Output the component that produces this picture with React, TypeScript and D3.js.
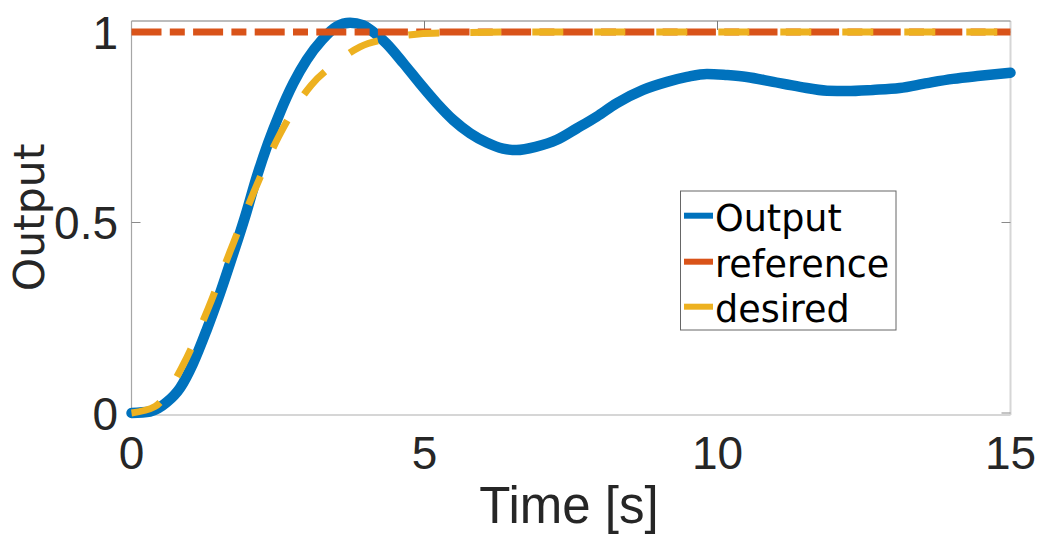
import React from "react";
import * as d3 from "d3";

// Measured step response (time in seconds, output value)
const outputTime = [0, 0.32, 0.6, 0.83, 1.05, 1.28, 1.51, 1.74, 1.94, 2.14, 2.33, 2.53, 2.76, 2.99, 3.25, 3.5, 3.73, 3.95, 4.1, 4.35, 4.64, 4.92, 5.21, 5.49, 5.78, 6.06, 6.34, 6.57, 6.91, 7.26, 7.6, 7.94, 8.28, 8.73, 9.14, 9.48, 9.82, 10.16, 10.5, 10.95, 11.41, 11.87, 12.21, 12.65, 13.11, 13.58, 14.02, 14.48, 15.0];
const outputValue = [0, 0.004, 0.028, 0.066, 0.13, 0.217, 0.314, 0.42, 0.516, 0.621, 0.708, 0.787, 0.865, 0.927, 0.979, 1.014, 1.024, 1.018, 1.003, 0.97, 0.918, 0.865, 0.813, 0.769, 0.734, 0.71, 0.694, 0.69, 0.699, 0.717, 0.747, 0.778, 0.813, 0.848, 0.869, 0.882, 0.89, 0.887, 0.882, 0.869, 0.856, 0.846, 0.845, 0.848, 0.853, 0.866, 0.877, 0.885, 0.893];

// Desired (model) response
const desiredTime = [0, 0.4, 0.88, 1.31, 1.68, 2.08, 2.51, 3.07, 3.5, 3.9, 4.4, 4.9, 5.5, 6.5, 8, 10, 15];
const desiredValue = [0, 0.017, 0.126, 0.275, 0.423, 0.577, 0.725, 0.861, 0.92, 0.961, 0.983, 0.995, 0.998, 1, 1, 1, 1];

// Step reference
const referenceTime = [0, 15];
const referenceValue = [1, 1];

const xTicks = [0, 5, 10, 15];
const yTicks = [0, 0.5, 1];
const yTickLabels = ["0", "0.5", "1"];

const legendItems = ["Output", "reference", "desired"];
const colors = ["#0072BD", "#D95319", "#EDB120"];

const W = 1040;
const H = 536;

export default function App() {
  const x = d3.scaleLinear().domain([0, 15]).range([131.5, 1010.5]);
  const y = d3.scaleLinear().domain([0, 1]).range([413, 32]);
  const top = y(1.0289);
  const bottom = 415;
  const left = x(0);
  const right = x(15);

  const smooth = d3
    .line<[number, number]>()
    .x((d) => x(d[0]))
    .y((d) => y(d[1]))
    .curve(d3.curveMonotoneX);
  const straight = d3
    .line<[number, number]>()
    .x((d) => x(d[0]))
    .y((d) => y(d[1]));

  const outPts = outputTime.map((t, i) => [t, outputValue[i]] as [number, number]);
  const desPts = desiredTime.map((t, i) => [t, desiredValue[i]] as [number, number]);
  const refPts = referenceTime.map((t, i) => [t, referenceValue[i]] as [number, number]);

  const tickFont = "'Liberation Sans', Arial, sans-serif";
  const wideFont = "'DejaVu Sans', sans-serif";

  const legX = 680.5;
  const legY = 191;
  const legRows = [215.7, 261.7, 306.7];

  return (
    <div style={{ position: "fixed", left: 0, top: 0 }}>
      <svg width={W} height={H} viewBox={`0 0 ${W} ${H}`} style={{ display: "block", background: "#fff" }}>
        <rect x={0} y={0} width={W} height={H} fill="#fff" />

        {/* axes frame */}
        <line x1={left} y1={bottom} x2={right} y2={bottom} stroke="#d6d6d6" strokeWidth={2} />
        <line x1={right} y1={top} x2={right} y2={bottom} stroke="#d6d6d6" strokeWidth={2} />
        <line x1={left} y1={top} x2={right} y2={top} stroke="#7a7a7a" strokeWidth={1.2} />
        <line x1={left} y1={top} x2={left} y2={bottom} stroke="#a6a6a6" strokeWidth={1.2} />

        {/* tick marks (inward) */}
        {xTicks.slice(1, -1).map((t) => (
          <line key={`xt${t}`} x1={x(t)} x2={x(t)} y1={top} y2={top + 9} stroke="#7a7a7a" strokeWidth={1} />
        ))}
        {yTicks.map((v) => (
          <g key={`yt${v}`}>
            <line x1={left} x2={left + 9} y1={y(v)} y2={y(v)} stroke="#8a8a8a" strokeWidth={1} />
            <line x1={right - 9} x2={right} y1={y(v)} y2={y(v)} stroke="#8a8a8a" strokeWidth={1} />
          </g>
        ))}

        {/* series */}
        <path d={smooth(outPts) ?? ""} fill="none" stroke={colors[0]} strokeWidth={10.5} strokeLinejoin="round" strokeLinecap="round" />
        <path d={straight(refPts) ?? ""} fill="none" stroke={colors[1]} strokeWidth={7} strokeDasharray="30 8.3 15 8.3" />
        <path d={smooth(desPts) ?? ""} fill="none" stroke={colors[2]} strokeWidth={7} strokeDasharray="31 31" />

        {/* tick labels */}
        {xTicks.map((t) => (
          <text key={`xl${t}`} x={x(t)} y={469} textAnchor="middle" fontFamily={tickFont} fontSize={46} fill="#262626">
            {t}
          </text>
        ))}
        {yTicks.map((v, i) => (
          <text key={`yl${v}`} x={118} y={y(v) + 16.5} textAnchor="end" fontFamily={tickFont} fontSize={46} fill="#262626">
            {yTickLabels[i]}
          </text>
        ))}

        {/* axis titles */}
        <text x={569} y={523} textAnchor="middle" fontFamily={tickFont} fontSize={51} fill="#262626">
          Time [s]
        </text>
        <text
          transform={`translate(44,217.5) rotate(-90)`}
          textAnchor="middle"
          fontFamily={wideFont}
          fontSize={42.5}
          fill="#262626"
        >
          Output
        </text>

        {/* legend */}
        <rect x={legX} y={legY} width={215.5} height={139} fill="#fff" stroke="#666" strokeWidth={1} />
        {legendItems.map((name, i) => (
          <g key={name}>
            <line x1={684} x2={713} y1={legRows[i]} y2={legRows[i]} stroke={colors[i]} strokeWidth={6} />
            <text x={715} y={legRows[i] + 15.5} fontFamily={wideFont} fontSize={36.5} fill="#000">
              {name}
            </text>
          </g>
        ))}
      </svg>
    </div>
  );
}
